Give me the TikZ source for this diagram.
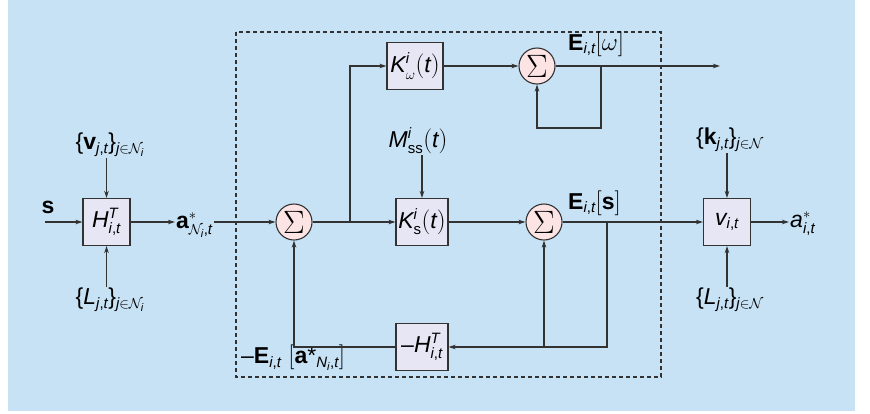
\documentclass[tikz,border=0pt]{standalone}
\usepackage{fontspec}
\setmainfont{Liberation Sans}
\usepackage[italic]{mathastext}
\usepackage{graphicx}
\usetikzlibrary{arrows.meta}
\DeclareMathSizes{23}{23}{15}{11}

\definecolor{bgblue}{RGB}{199,226,245}
\definecolor{boxfill}{RGB}{230,230,245}
\definecolor{sumfill}{RGB}{252,228,228}
\definecolor{linegray}{RGB}{50,50,50}

\tikzstyle{block} = [draw=linegray, line width=1.1pt, fill=boxfill, minimum width=47pt, minimum height=47pt, inner sep=1pt]
\tikzstyle{sum} = [draw=linegray, line width=1.1pt, fill=sumfill, circle, minimum size=36pt, inner sep=0pt]
\tikzstyle{lab} = [inner sep=1pt]
\tikzstyle{wire} = [draw=linegray, line width=1.2pt]
\tikzstyle{arr} = [wire, -{Stealth[length=7pt,width=4.5pt]}]
\newcommand{\bigsum}{\scalebox{1.3}{$\Sigma$}}

\begin{document}
\begin{tikzpicture}[x=1pt, y=-1pt, font=\fontsize{23}{27}\selectfont]
\useasboundingbox (0,0) rectangle (870,413);
\fill[bgblue] (8,0) rectangle (855,411);
%begin input block
\node[block] (Hin) at (106.5,222) {$H^T_{i,t}$};
\node[lab] (s) at (48,207) {$\mathbf{s}$};
\coordinate (sin) at (45,222);
\node[lab] (vN) at (110,145) {$\{\mathbf{v}_{j,t}\}_{j\in\mathcal{N}_i}$};
\node[lab] (LN) at (110,300) {$\{L_{j,t}\}_{j\in\mathcal{N}_i}$};
\node[lab, anchor=west] (aN) at (175,225) {$\mathbf{a}^*_{\mathcal{N}_i,t}$};
\draw[arr] (sin) -- (Hin);
\draw[arr] (Hin.north |- vN.south) -- (Hin);
\draw[arr] (Hin.south |- LN.north) -- (Hin);
\draw[arr] (Hin) -- (Hin.east -| aN.west);
%end input block
%begin dashed part
\draw[linegray, line width=1.1pt, dash pattern=on 4pt off 3pt] (236,32) rectangle (661,377);
\node[sum] (S1) at (294,222) {\bigsum};
\node[block, minimum width=56pt] (Kw) at (415,66) {$K^i_\omega(t)$};
\node[block, minimum width=52pt] (Ks) at (422,222) {$K^i_{\mathrm{s}}(t)$};
\node[lab] (M) at (418,141) {$M^i_{\mathrm{ss}}(t)$};
\node[sum] (S2) at (537,66) {\bigsum};
\node[sum] (S3) at (544,222) {\bigsum};
\node[block, minimum width=52pt] (Hfb) at (422,347) {$-H^T_{i,t}$};
\node[lab, anchor=west] (Ew) at (567,44) {$\mathbf{E}_{i,t}[\omega]$};
\node[lab, anchor=west] (Es) at (567,203) {$\mathbf{E}_{i,t}[\mathbf{s}]$};
\node[lab, anchor=west] (Ea) at (240,358) {$-\mathbf{E}_{i,t}\;[\mathbf{a}\mbox{*}_{N_i,t}]$};
\coordinate (b1) at (350,222);
\coordinate (b2) at (601,66);
\coordinate (fb2) at (601,128);
\coordinate (wout) at (720,66);
\coordinate (b3) at (607,222);
\coordinate (j3) at (544,347);
\draw[arr] (aN.east |- S1) -- (S1);
\draw[arr] (S1) -- (Ks);
\draw[arr] (b1) |- (Kw);
\draw[arr] (Kw) -- (S2);
\draw[arr] (S2) -- (wout);
\draw[arr] (b2) -- (fb2) -| (S2);
\draw[arr] (Ks.north |- M.south) -- (Ks);
\draw[arr] (Ks) -- (S3);
\draw[arr] (b3) |- (Hfb);
\draw[arr] (j3) -- (S3);
\draw[arr] (Hfb) -| (S1);
%end dashed part
%begin output block
\node[block] (V) at (727,222) {$v_{i,t}$};
\node[lab] (kN) at (730,140) {$\{\mathbf{k}_{j,t}\}_{j\in\mathcal{N}}$};
\node[lab] (LN2) at (730,300) {$\{L_{j,t}\}_{j\in\mathcal{N}}$};
\node[lab, anchor=west] (ai) at (789,224) {$a^*_{i,t}$};
\draw[arr] (S3) -- (V);
\draw[arr] (V.north |- kN.south) -- (V);
\draw[arr] (V.south |- LN2.north) -- (V);
\draw[arr] (V) -- (V.east -| ai.west);
%end output block
\end{tikzpicture}
\end{document}
